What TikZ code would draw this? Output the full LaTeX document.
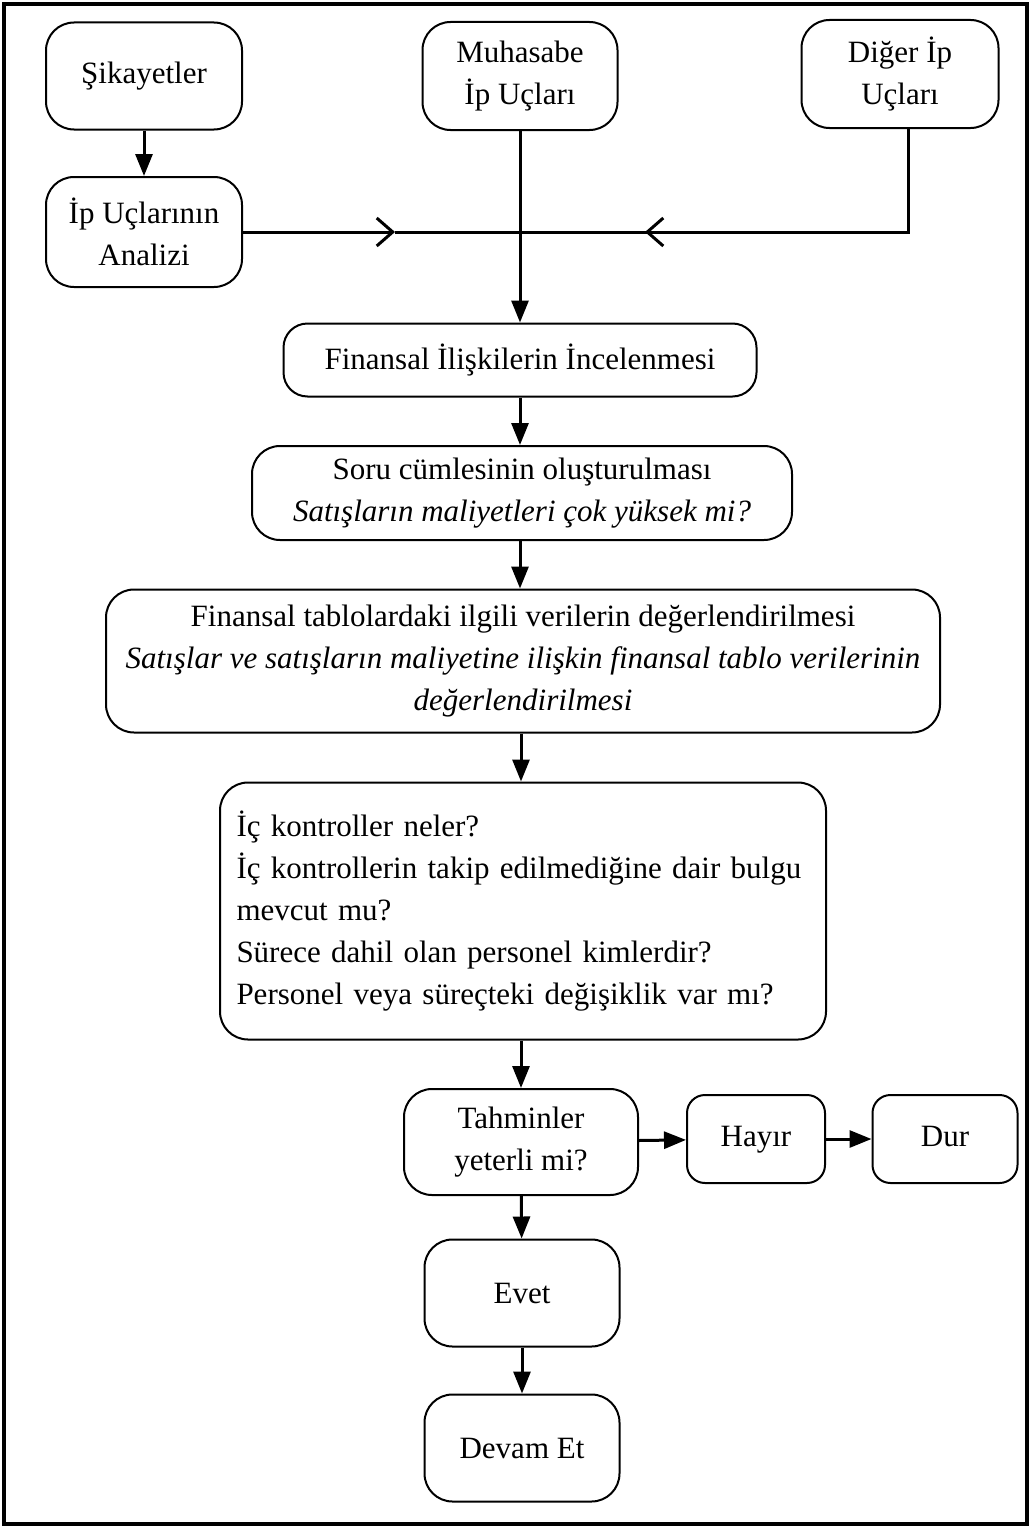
\documentclass[tikz,border=0pt]{standalone}
\usepackage{fontspec}
\setmainfont{Liberation Serif}
\usetikzlibrary{arrows.meta}
\begin{document}
\begin{tikzpicture}[x=1pt,y=-1pt,
  box/.style={draw, line width=2pt, rounded corners=28pt, inner sep=0pt, align=center,
    font=\fontsize{31}{42}\selectfont},
  sbox/.style={box, rounded corners=18pt, text height=21pt, text depth=7pt},
  arr/.style={line width=3pt, -{Triangle[length=22pt,width=17pt]}},
  openarr/.style={line width=3pt, -{Straight Barb[length=16pt,width=28pt]}},
  plain/.style={line width=3pt},
]
\path[use as bounding box] (0,0) rectangle (1031,1528);
\draw[line width=4pt] (4,4) rectangle (1027,1524);

\node[box, minimum width=196pt, minimum height=107pt] (sik) at (144,76) {Şikayetler};
\node[box, minimum width=196pt, minimum height=110pt] (ana) at (144,232) {İp Uçlarının\\Analizi};
\node[box, minimum width=195pt, minimum height=108pt] (muh) at (520,76) {Muhasabe\\İp Uçları};
\node[box, minimum width=197pt, minimum height=108pt] (dig) at (900,74) {Diğer İp\\Uçları};
\node[box, rounded corners=24pt, minimum width=473pt, minimum height=73pt] (fin) at (520,360) {Finansal İlişkilerin İncelenmesi};
\node[box, minimum width=540pt, minimum height=94pt] (soru) at (522,493) {Soru cümlesinin oluşturulması\\\textit{Satışların maliyetleri çok yüksek mi?}};
\node[box, minimum width=834pt, minimum height=143pt] (tab) at (523,661) {Finansal tablolardaki ilgili verilerin değerlendirilmesi\\\textit{Satışlar ve satışların maliyetine ilişkin finansal tablo verilerinin}\\\textit{değerlendirilmesi}};
\node[box, align=left, text width=573pt, minimum width=606pt, minimum height=257pt] (ic) at (523,911)
  {İç kontroller neler?\\\makebox[573pt][s]{İç kontrollerin takip edilmediğine dair bulgu}\\mevcut mu?\\Sürece dahil olan personel kimlerdir?\\Personel veya süreçteki değişiklik var mı?};
\node[box, minimum width=234pt, minimum height=106pt] (tah) at (521,1142) {Tahminler\\yeterli mi?};
\node[sbox, minimum width=138pt, minimum height=88pt] (hay) at (756,1139) {Hayır};
\node[sbox, minimum width=145pt, minimum height=88pt] (dur) at (945,1139) {Dur};
\node[box, minimum width=195pt, minimum height=107pt] (evet) at (522,1293) {Evet};
\node[box, minimum width=195pt, minimum height=107pt] (dev) at (522,1448) {Devam Et};

\coordinate (j) at (520,232);
\coordinate (midL) at (395,232);
\coordinate (midR) at (645,232);
\coordinate (dc) at (908,232);

\draw[arr] (sik) -- (ana);
\draw[openarr] (ana.east) -- (midL);
\draw[plain] (midL) -- (j);
\draw[plain] (dig.south -| dc) -- (dc) -- (midR);
\draw[openarr] (dc) -- (midR);
\draw[plain] (midR) -- (j);
\draw[arr] (muh) -- (fin);
\draw[arr] (fin) -- (soru.north -| fin);
\draw[arr] (soru.south -| fin) -- (tab.north -| fin);
\draw[arr] (tab.south -| tah) -- (ic.north -| tah);
\draw[arr] (ic.south -| tah) -- (tah);
\draw[arr] (tah) -- (hay);
\draw[arr] (hay) -- (dur);
\draw[arr] (tah) -- (evet);
\draw[arr] (evet) -- (dev);
\end{tikzpicture}
\end{document}
